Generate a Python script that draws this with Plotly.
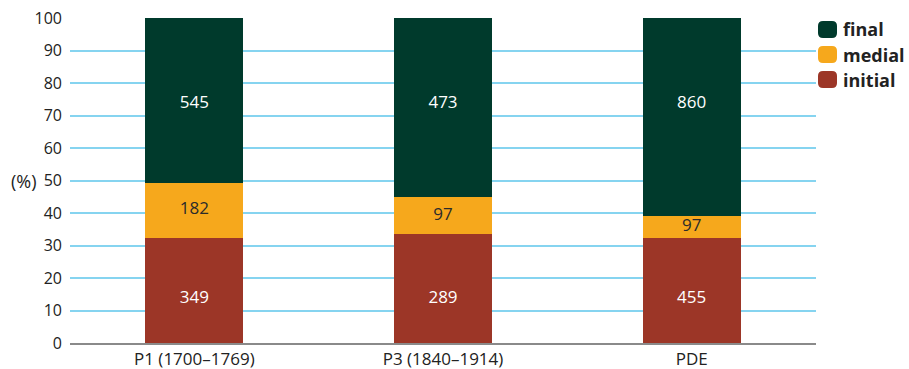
import plotly.graph_objects as go

# Counts of each position per corpus
periods = ["P1 (1700–1769)", "P3 (1840–1914)", "PDE"]
initial = [349, 289, 455]
medial = [182, 97, 97]
final = [545, 473, 860]

COLORS = {"initial": "#9C3627", "medial": "#F6A81C", "final": "#003A2C"}
FONT = "Open Sans"

totals = [a + b + c for a, b, c in zip(initial, medial, final)]
pct_initial = [100 * v / t for v, t in zip(initial, totals)]
pct_medial = [100 * v / t for v, t in zip(medial, totals)]
pct_final = [100 * v / t for v, t in zip(final, totals)]

fig = go.Figure()
for name, counts, pct in [("initial", initial, pct_initial),
                          ("medial", medial, pct_medial),
                          ("final", final, pct_final)]:
    fig.add_trace(go.Bar(
        x=periods, y=pct, name=name, customdata=counts,
        marker=dict(color=COLORS[name], line=dict(width=0)),
        hovertemplate="%{x}<br>" + name + ": %{customdata} (%{y:.1f}%)<extra></extra>",
        showlegend=False,
    ))

# Count labels: initial and final sit at a fixed height, medial in its segment's middle
label_y_initial = 13.5
label_y_final = 73.5
medial_mid = [a + b / 2 for a, b in zip(pct_initial, pct_medial)]

for ys, counts, color in [([label_y_initial] * 3, initial, "white"),
                          (medial_mid, medial, "#2b2b2b"),
                          ([label_y_final] * 3, final, "white")]:
    fig.add_trace(go.Scatter(
        x=periods, y=ys, mode="text", text=[str(c) for c in counts],
        textfont=dict(family=FONT, size=17, color=color),
        hoverinfo="skip", showlegend=False,
    ))

W, H = 909, 369
L, R, T, B = 70, 93, 18, 26
pw, ph = W - L - R, H - T - B


def px(x):
    return (x - L) / pw


def py(y):
    return 1 - (y - T) / ph


def rounded_square(x0, y0, w, h, r):
    x1, y1 = x0 + w, y0 + h
    pts = [
        f"M {px(x0 + r)},{py(y0)}",
        f"L {px(x1 - r)},{py(y0)}",
        f"Q {px(x1)},{py(y0)} {px(x1)},{py(y0 + r)}",
        f"L {px(x1)},{py(y1 - r)}",
        f"Q {px(x1)},{py(y1)} {px(x1 - r)},{py(y1)}",
        f"L {px(x0 + r)},{py(y1)}",
        f"Q {px(x0)},{py(y1)} {px(x0)},{py(y1 - r)}",
        f"L {px(x0)},{py(y0 + r)}",
        f"Q {px(x0)},{py(y0)} {px(x0 + r)},{py(y0)}",
        "Z",
    ]
    return " ".join(pts)


shapes = []
annotations = []
for i, name in enumerate(["final", "medial", "initial"]):
    yc = 29.5 + i * 25
    shapes.append(dict(type="path", xref="paper", yref="paper",
                       path=rounded_square(818, yc - 8.5, 19, 17, 5),
                       fillcolor=COLORS[name], line=dict(width=0)))
    annotations.append(dict(xref="paper", yref="paper", x=px(841), y=py(yc),
                            xanchor="left", yanchor="middle", showarrow=False,
                            text=f"<b>{name}</b>",
                            font=dict(family=FONT, size=18, color="#222222")))

annotations.append(dict(xref="paper", yref="y", x=px(39), y=50,
                        xanchor="right", yanchor="middle", showarrow=False,
                        text="(%)", font=dict(family=FONT, size=18, color="#222222")))

fig.update_layout(
    barmode="stack",
    bargap=0.605,
    width=W, height=H,
    margin=dict(l=L, r=R, t=T, b=B, pad=0),
    paper_bgcolor="white", plot_bgcolor="white",
    shapes=shapes, annotations=annotations,
    font=dict(family=FONT, color="#222222"),
)
fig.update_yaxes(
    range=[0, 100], dtick=10, showgrid=True, gridcolor="#86D4F0", gridwidth=1.5,
    zeroline=False, showline=False, ticks="", ticklabelstandoff=7,
    automargin=False,
    tickfont=dict(family=FONT, size=16, color="#222222"),
)
fig.update_xaxes(
    showline=True, linecolor="#8a8a8a", linewidth=1.5, ticks="",
    automargin=False, ticklabelstandoff=0,
    tickfont=dict(family=FONT, size=17, color="#222222"),
)

fig.write_html("out.html")
